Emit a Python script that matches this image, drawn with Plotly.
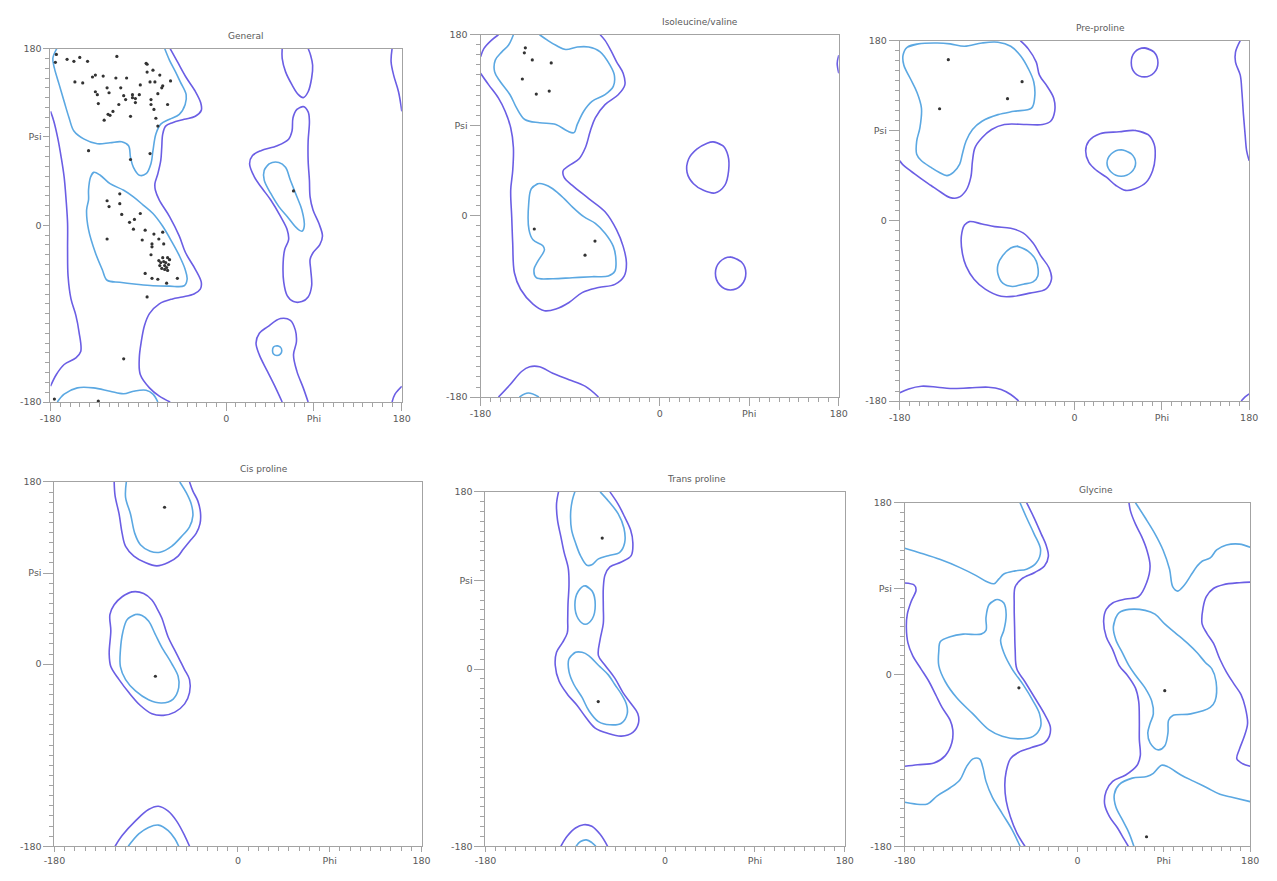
import plotly.graph_objects as go

# ---------------- data (phi, psi in degrees) ----------------
PANEL_TITLES = ["General", "Isoleucine/valine", "Pre-proline", "Cis proline", "Trans proline", "Glycine"]
TICK_VALUES = [-180, -90, 0, 90, 180]
X_TICK_TEXT = ["-180", "", "0", "Phi", "180"]
Y_TICK_TEXT = ["-180", "", "0", "Psi", "180"]

# --- General ---
GEN_PHI = [-174, -175, -163, -156, -150, -142, -112, -82, -81, -155, -147, -137, -134, -126, -113, -102, -81, -75, -68, -57,
           -122, -108, -88, -78, -73, -65, -66, -134, -132, -120, -105, -103, -96, -96, -93, -93, -89, -70, -77, -131,
           -110, -77, -74, -60, -116, -121, -119, -98, -125, -72, -70, -141, -78, -98,
           -109, -122, -109, -120, -107, -88, -94, -99, -122, -95, -83, -74, -65, -69, -86, -76, -64, -76, -77, -60,
           -58, -65, -69, -67, -64, -62, -59, -68, -63, -61, -66, -63, -60, -83, -76, -70, -61, -50, -81, -105, 69, -176, -131]
GEN_PSI = [174, 166, 169, 167, 171, 167, 172, 165, 164, 146, 145, 151, 153, 152, 150, 150, 156, 158, 153, 147,
           140, 140, 143, 146, 146, 142, 140, 136, 133, 135, 132, 128, 133, 130, 129, 125, 133, 134, 128, 124,
           123, 123, 118, 123, 116, 113, 112, 111, 107, 109, 101, 76, 73, 67,
           32, 25, 22, 19, 11, 12, 6, 3, -14, -4, -5, -9, -7, -14, -15, -19, -19, -22, -30, -33,
           -35, -33, -36, -38, -37, -38, -40, -41, -41, -43, -44, -45, -46, -49, -54, -55, -59, -54, -73, -136, 35, -177, -179]

GEN_IN_TOP = [(-173.6, 180), (-177.6, 170), (-176, 160), (-171, 143), (-166, 126), (-161, 109.5), (-156, 96), (-146, 88),
              (-132, 83), (-119, 84), (-107, 85), (-100, 81), (-98, 69), (-95, 59), (-89, 51), (-82, 52.5), (-77, 63),
              (-75, 76), (-72, 93), (-67, 103), (-58, 108), (-48, 113), (-42, 123), (-41, 133), (-47, 146), (-52, 156.5),
              (-58, 168), (-63, 180)]
GEN_IN_BOT = [(-173, -180), (-166, -172), (-152.5, -165.6), (-136, -165.6), (-119, -169), (-105, -171.6), (-95, -169),
              (-82, -168), (-75, -172), (-70, -180)]
GEN_IN_ALPHA = [(-135.7, 54), (-139, 49), (-141, 36), (-141, 26), (-143, 15.6), (-141, -4.5), (-134, -28), (-127, -45),
                (-122, -56), (-109, -58), (-92, -60), (-75, -61.6), (-58, -62), (-43, -61.6), (-40, -55), (-42, -45),
                (-48, -31), (-55, -18), (-65, -1), (-75, 12), (-85, 20.6), (-95, 29), (-105, 35.7), (-119, 42.4), (-129, 51)]
GEN_IN_LALPHA = [(44, 62.6), (39, 56), (39, 46), (45.7, 32.4), (54, 19), (62.5, 9), (72.5, -3), (77.6, -6), (80, -1),
                 (77.6, 15.6), (72.5, 29), (65.8, 45.8), (60.8, 59), (54, 64)]
GEN_IN_SMALL = [(52, -122.7), (55.5, -124), (57, -127.7), (55.5, -131.2), (52, -132.7), (48.5, -131.2), (47.5, -127.7), (48.5, -124)]
GEN_OUT_MAIN = [(-57.4, 180), (-50, 166.6), (-41.6, 151.5), (-31.6, 136.4), (-26, 124.6), (-25.5, 117), (-31.6, 111),
                (-43, 107.9), (-55, 104.5), (-62, 101), (-65, 92.8), (-66, 79.4), (-67, 66), (-70, 52.5), (-73, 42.5),
                (-72.5, 35.7), (-68.5, 25.7), (-58, 8.9), (-48, -11), (-41.6, -28), (-31.6, -44.8), (-25.5, -58),
                (-26.5, -65), (-33, -70), (-45, -73), (-55, -75), (-68.5, -80), (-78.6, -90), (-83.6, -101.8),
                (-87, -118.6), (-89, -135), (-88, -152), (-78.6, -165.6), (-68.5, -174), (-57.4, -180)]
GEN_OUT_LEFT = [(-180, 116), (-176.6, 106), (-172.6, 89), (-169, 69), (-166, 49), (-164, 25.7), (-162.5, 2),
                (-162.5, -24.7), (-162, -51.7), (-159, -75), (-154, -91.8), (-150.8, -108.5), (-149, -128.6),
                (-154, -135), (-166, -141.8), (-174, -152), (-180, -164)]
GEN_OUT_WRAP_TOP = [(170, 180), (169, 166.6), (171.6, 153), (176.6, 136), (180, 116)]
GEN_OUT_WRAP_BOT = [(170, -180), (173, -172), (180, -164)]
GEN_OUT_R_TOP = [(57.4, 180), (57.4, 170), (60.8, 156.5), (67.5, 143), (74, 133), (79, 130), (84, 136), (87.6, 150),
                 (88.6, 163), (86.6, 173), (84, 180)]
GEN_OUT_R_MID = [(79, 121), (72.5, 118), (68.5, 109.5), (67.5, 96), (64, 87.7), (52.4, 81), (35.6, 76), (27, 71),
                 (24, 62.6), (29, 49), (37, 37.4), (45.7, 25.7), (55.7, 9), (62.5, -4.5), (64, -14.6), (60, -24.6),
                 (58.4, -38), (59, -58), (62.5, -71.6), (69, -77.7), (77.6, -77.7), (84, -73), (87.6, -61.6),
                 (86.6, -44.8), (86, -34.7), (89, -28), (96, -19.6), (98.7, -11), (95, 2), (89, 15.6), (86, 29),
                 (85.3, 45.8), (84, 66), (84, 86), (85.3, 106), (84, 115.6)]
GEN_OUT_R_BOT = [(57.4, -180), (50.7, -165.6), (42.3, -148.8), (34, -132), (30.6, -120), (34, -110), (42.3, -103.5),
                 (55.7, -95), (65.8, -96.8), (70.9, -106.8), (72, -118.6), (69, -132), (72.5, -148.8), (79, -165.6), (84, -180)]

# --- Isoleucine/valine ---
ILE_PHI = [-135, -136, -128, -109, -138, -111, -124, -126, -65, -75]
ILE_PSI = [167, 162, 155, 152, 136, 124, 121, -13, -25, -39]
ILE_OUT_TOP_ARC = [(-162, 180), (-169.2, 174.4), (-176.7, 166.2), (-180, 158)]
ILE_OUT_MAIN = [(-180, 141.7), (-171.8, 130.2), (-162, 117), (-155.3, 104), (-149.7, 87.6), (-147, 68), (-147.7, 44.8),
                (-149.7, 25.4), (-148.7, -0.8), (-147.7, -27), (-146, -56.5), (-139.8, -72.9), (-127.3, -87.6),
                (-115.8, -94.2), (-104.3, -92.5), (-91.1, -86), (-77.9, -76.2), (-61.5, -71.2), (-45, -68),
                (-35.7, -59.8), (-33.4, -46.7), (-36.7, -30.3), (-43.3, -13.9), (-54.9, 4.1), (-71.3, 17.2),
                (-87.8, 30.3), (-96, 38.3), (-97, 44.8), (-91.1, 50), (-81.2, 56.5), (-74.6, 68), (-69.7, 84.3),
                (-64.7, 97.5), (-54.9, 110.6), (-41.7, 120.4), (-35, 130.2), (-36.7, 141.7), (-43.3, 153.1),
                (-48.3, 163), (-54.9, 174.4), (-59.8, 180)]
ILE_OUT_BOT = [(-162, -180), (-150.4, -167.8), (-138.8, -154.6), (-130.6, -149.9), (-120.7, -149.9), (-107.5, -156.3),
               (-91.1, -162.8), (-74.6, -169.4), (-61.5, -180)]
ILE_OUT_EDGE = [(180, 159.6), (178.4, 151.5), (180, 141.7)]
ILE_OUT_C1 = [(53.8, 73.5), (63.7, 69.6), (68.7, 59.8), (69.3, 45), (65.4, 30.3), (55.5, 22.8), (44, 25.4), (34, 31.9),
              (27.5, 43.4), (29.1, 56.5), (37.3, 66.3), (47.2, 71.9)]
ILE_OUT_C2 = [(71, -40.8), (82, -45.6), (86.6, -57), (82, -68.8), (71, -73.6), (60.5, -68.8), (56, -57), (60.5, -45.6)]
ILE_IN_TOP = [(-147, 180), (-152, 169.5), (-158.6, 163), (-165.2, 154.8), (-165.9, 143.3), (-160.3, 133.5),
              (-150.4, 120.4), (-143.8, 107.3), (-135.5, 95.8), (-120.7, 92.5), (-104.3, 90.9), (-92.7, 84.3),
              (-86.1, 82.7), (-82.8, 90.9), (-76.3, 104), (-68, 113.8), (-54.9, 120.4), (-46.6, 128.6), (-45.6, 140),
              (-49.9, 149.8), (-59.8, 163), (-71.3, 167.8), (-82.8, 167.8), (-94.4, 165.3), (-104.3, 169.5),
              (-112.5, 174.4), (-120.7, 180)]
ILE_IN_BOT = [(-141, -180), (-132, -176), (-121.4, -180)]
ILE_IN_MID = [(-122.4, 31.9), (-129, 27), (-131.6, 12.3), (-131.3, -13.9), (-127.3, -23.8), (-117.4, -29.6),
              (-115.8, -33.6), (-122.4, -45), (-126.3, -53.2), (-124, -61.4), (-107.5, -62.4), (-87.8, -61.4),
              (-68, -60.4), (-51.6, -59.8), (-45, -54.9), (-44, -43.4), (-46.6, -30.3), (-54.9, -17.2), (-64.7, -7.4),
              (-76.3, -0.8), (-87.8, 9), (-96, 17.2), (-107.5, 27), (-115.8, 31.3)]

# --- Pre-proline ---
PRE_PHI = [-130, -54, -69, -139]
PRE_PSI = [161, 139, 122, 112]
PRE_IN_TL = [(-172.5, 173.4), (-161, 176.8), (-141.3, 177.7), (-128.1, 176.8), (-113.3, 174.4), (-95.3, 177.7),
             (-78.8, 178.4), (-65.7, 174.4), (-55.8, 165.2), (-47.6, 152.1), (-42, 138.9), (-41.1, 122.5),
             (-44.3, 112.6), (-62.4, 109.4), (-78.8, 106.1), (-95.3, 99.5), (-105.1, 91.3), (-111.7, 79.7),
             (-115.6, 66.6), (-118.3, 56.7), (-124.8, 48.5), (-131.4, 45.2), (-139.6, 48.5), (-147.8, 53.4),
             (-157.7, 60), (-162.6, 66.6), (-162.6, 79.7), (-159.3, 92.9), (-157.7, 112.6), (-162.6, 129),
             (-169.2, 142.2), (-175.8, 155.4), (-176.7, 165.2)]
PRE_OUT_TL = [(-55.8, 180), (-47.6, 171.8), (-39.4, 158.6), (-36.1, 145.5), (-27.9, 134), (-21.4, 122.5),
              (-20.4, 109.4), (-24.6, 99.5), (-32.9, 96.2), (-49.3, 96.2), (-72.3, 96.2), (-85.4, 91.3), (-95.3, 83),
              (-102.5, 73.2), (-105.1, 60), (-106.8, 43.6), (-111.7, 30.4), (-119.9, 23.2), (-128.1, 23.2),
              (-138, 28.8), (-147.8, 35.3), (-157.7, 41.9), (-169.2, 50.1), (-177.4, 56.7), (-180, 60)]
PRE_OUT_RIGHT = [(170.8, 180), (165.9, 168.5), (165.9, 158.6), (170.8, 145.5), (172.5, 129), (174.1, 106.1),
                 (175.8, 86.3), (177.4, 69.9), (180, 60)]
PRE_OUT_BOT = [(-180, -171.8), (-170.8, -167.9), (-157.7, -165.2), (-141.3, -166.2), (-128.1, -167.5),
               (-108.4, -166.9), (-88.7, -166.2), (-75.6, -168.5), (-65.7, -173.5), (-57.5, -180)]
PRE_OUT_BR = [(171.8, -180), (175.8, -175.8), (180, -172.8)]
PRE_OUT_CIRC = [(72, 172.8), (82, 168.5), (86, 158), (82, 148), (72, 143.8), (62, 148), (58.5, 158), (62, 168.5)]
PRE_OUT_MID = [(62.4, 90.3), (75.6, 86.3), (82.1, 76.5), (83.1, 63.3), (80.5, 50.1), (73.9, 38.6), (62.4, 32.1),
               (52.6, 30.4), (42.7, 35.3), (32.9, 43.6), (23, 50.1), (14.8, 58.4), (11.5, 69.9), (14.8, 79.7),
               (26.3, 87), (46, 89)]
PRE_IN_MID = [(48, 71), (58.5, 67), (63, 57.7), (58.5, 48.5), (48, 44.5), (38, 48.5), (33.5, 57.7), (38, 67)]
PRE_OUT_LOW = [(-108.4, -0.8), (-113.3, -4.1), (-116.6, -15.6), (-115.6, -32.1), (-111.7, -45.2), (-103.5, -58.3),
               (-92, -68.2), (-75.6, -75.4), (-62.4, -75.4), (-46, -72.2), (-29.6, -68.2), (-23.7, -58.3),
               (-26.3, -46.9), (-34.5, -35.3), (-42.7, -22.2), (-52.6, -12.3), (-65.7, -7.4), (-82.1, -5.8), (-95.3, -3.1)]
PRE_IN_LOW = [(-59.1, -25.5), (-47.6, -30.4), (-39.4, -40.3), (-37.8, -55.1), (-42.7, -61), (-52.6, -63.3),
              (-64.1, -65.6), (-73.9, -62.3), (-78.8, -53.4), (-78.8, -43.6), (-73.9, -34.7), (-65.7, -27.1)]

# --- Cis proline ---
CIS_PHI = [-72, -81]
CIS_PSI = [155, -12]
CIS_OUT_TOP = [(-121.4, 180), (-120.5, 166.2), (-116.6, 148.4), (-113.6, 129.2), (-110.2, 116.4), (-102.1, 106.8),
               (-90.9, 100.4), (-79.6, 97.1), (-68.4, 100.4), (-58.7, 106.8), (-53.9, 113.2), (-47.5, 121.2),
               (-41, 129.2), (-37.2, 138.8), (-36.8, 150), (-39.4, 161.3), (-44.2, 171), (-47.5, 180)]
CIS_IN_TOP = [(-109.5, 180), (-110.2, 164.5), (-105.4, 148.4), (-101.2, 129.2), (-95.7, 118), (-86.1, 111.6),
              (-76.4, 110.6), (-65.1, 116.4), (-55.5, 126), (-47.5, 135.7), (-44.2, 146.8), (-45.8, 158.1),
              (-50.7, 169.4), (-57.1, 180)]
CIS_OUT_MID = [(-103.7, 71.4), (-113.6, 66.6), (-121.4, 58.6), (-125.6, 49), (-124.7, 32.9), (-126.3, 10.4),
               (-124.7, -2.4), (-116.6, -15.3), (-107, -28.1), (-95.7, -40.9), (-84.4, -49), (-73.2, -50.6),
               (-61.9, -47.4), (-52.3, -39.3), (-47.5, -28.1), (-47.5, -15.3), (-52.3, -5.6), (-57.1, 4),
               (-61.9, 13.6), (-68.4, 26.5), (-74.8, 45.8), (-79.6, 55.4), (-84.4, 63.4), (-92.5, 69.9)]
CIS_IN_MID = [(-100.5, 49), (-108.6, 44.2), (-113, 31.3), (-115.3, 13.6), (-115.3, -2.4), (-110.2, -15.3),
              (-100.5, -26.5), (-87.7, -35.2), (-74.8, -38.4), (-63.5, -34.5), (-58.1, -23.3), (-58.7, -12),
              (-65.1, 0.8), (-74.8, 16.9), (-81.2, 29.7), (-87.7, 42.6), (-94.1, 48)]
CIS_OUT_BOT = [(-120.5, -180), (-113.6, -169.4), (-100.5, -154.9), (-87.7, -143.7), (-78, -140.5), (-68.4, -145.3),
               (-60.3, -154.9), (-52.3, -169.4), (-47.5, -180)]
CIS_IN_BOT = [(-107.6, -180), (-97.3, -167.8), (-87.7, -161.4), (-78, -159.1), (-68.4, -164.6), (-61.9, -172.6), (-58.1, -180)]

# --- Trans proline ---
TRANS_PHI = [-63, -67]
TRANS_PSI = [133, -33]
TRANS_OUT_MAIN = [(-106.8, 180), (-108.8, 167.6), (-107.8, 151.2), (-104.5, 134.8), (-101.2, 118.5), (-97, 102.1),
                  (-96.3, 85.8), (-97.3, 66.1), (-97.6, 49.7), (-98, 36.7), (-102.9, 26.8), (-108.8, 17),
                  (-110.1, 3.9), (-106.2, -12.4), (-98, -25.5), (-88.1, -37), (-79.9, -48.4), (-70.1, -59.9),
                  (-56.9, -65.5), (-43.8, -68.1), (-32.3, -64.2), (-26.7, -55), (-27.4, -45.2), (-34, -35.3),
                  (-42.2, -23.9), (-50.4, -9.2), (-60.2, 3.9), (-66.8, 13.7), (-65.1, 30.1), (-61.9, 46.5),
                  (-61.9, 62.8), (-61.9, 82.5), (-60.2, 95.6), (-55.3, 103.8), (-43.8, 108.7), (-34, 115.2),
                  (-32.3, 128.3), (-34.6, 141.4), (-40.5, 154.5), (-47.1, 167.6), (-55.3, 180)]
TRANS_IN_TOP = [(-90.4, 180), (-93.1, 170.8), (-94.7, 157.8), (-93.7, 141.4), (-89.8, 128.3), (-84.8, 115.2),
                (-78.3, 105.4), (-73.4, 106), (-66.8, 111.9), (-56.9, 115.2), (-45.5, 118.5), (-40.5, 128.3),
                (-41.2, 143), (-47.1, 157.8), (-56.9, 170.8), (-65.1, 180)]
TRANS_IN_ELL = [(-80, 84.7), (-73, 79), (-70, 65), (-73, 51), (-80, 45.5), (-87, 51), (-90.4, 65), (-87, 79)]
TRANS_IN_LOW = [(-89.8, 17), (-96.3, 10.5), (-96.3, -2.6), (-91.4, -15.7), (-83.2, -28.8), (-76.6, -41.9),
                (-66.8, -53.4), (-55.3, -56.6), (-43.8, -55), (-37.9, -45.2), (-38.9, -35.3), (-43.8, -25.5),
                (-50.4, -15.7), (-56.9, -5.9), (-66.8, 3.9), (-76.6, 13.7), (-83.2, 17)]
TRANS_OUT_BOT = [(-104.5, -180), (-98, -169.6), (-89.8, -161.4), (-81.6, -158.1), (-73.4, -159.7), (-65.1, -167.9), (-57.6, -180)]
TRANS_IN_BOT = [(-89.2, -180), (-84.8, -175.2), (-78.9, -173.5), (-73.4, -176.2), (-69.4, -180)]

# --- Glycine ---
GLY_PHI = [-61, 91, 72]
GLY_PSI = [-14, -17, -170]
GLY_OUT_L = [(-53, 180), (-45.2, 164.2), (-37.8, 147.4), (-32.7, 135.6), (-30.3, 123.8), (-34.4, 113.7),
             (-44.5, 106.9), (-58.1, 100.2), (-64.9, 91.8), (-65.9, 73.3), (-65.5, 49.7), (-64.9, 26.1), (-63.2, 5.9),
             (-54.7, -7.6), (-44.5, -24.4), (-34.4, -41.3), (-28.3, -54.7), (-29.3, -64.8), (-34.4, -71.6),
             (-47.9, -76.6), (-61.5, -81.7), (-69.9, -88.4), (-74.3, -101.9), (-75.7, -115.4), (-74.3, -132.2),
             (-69.9, -149), (-63.2, -165.9), (-54.7, -180)]
GLY_IN_TL = [(-59.8, 180), (-53, 164.2), (-45.2, 147.4), (-38.4, 130.5), (-42.8, 117), (-53, 110.3), (-64.9, 108.6),
             (-76.7, 105.3), (-81.8, 100.2), (-86.9, 95.1), (-93.6, 96.8), (-105.5, 103.6), (-122.4, 112),
             (-142.8, 120.4), (-163.1, 127.1), (-180, 132.2)]
GLY_IN_BL = [(-180, -133.9), (-169.9, -135.6), (-156.3, -135.6), (-146.1, -127.1), (-132.6, -118.7), (-122.4, -110.3),
             (-115.7, -96.8), (-108.9, -88.4), (-102.1, -88.4), (-98.7, -96.8), (-95.3, -112), (-88.6, -128.8),
             (-78.4, -145.7), (-68.2, -162.5), (-59.8, -180)]
GLY_IN_LMID = [(-85.2, 78.3), (-92, 73.3), (-95.3, 59.8), (-95.3, 46.3), (-100.4, 42.3), (-119.1, 42.3),
               (-132.6, 39.6), (-142.8, 34.5), (-144.5, 24.4), (-144.5, 9.3), (-137.7, -7.6), (-125.8, -24.4),
               (-108.9, -41.3), (-92, -58.1), (-78.4, -64.8), (-61.5, -67.5), (-46.2, -64.8), (-38.4, -54.7),
               (-39.5, -41.3), (-46.2, -27.8), (-56.4, -10.9), (-68.2, 5.9), (-76.7, 22.7), (-80.1, 36.2),
               (-76.7, 46.3), (-74.3, 63.2), (-76.7, 74.9), (-81.8, 78.3)]
GLY_OUT_LEDGE = [(-180, 95.8), (-169.9, 93.5), (-168.2, 88.4), (-173.2, 76.6), (-177.3, 63.2), (-178.3, 49.7),
                 (-176.6, 32.8), (-171.6, 19.4), (-163.1, 5.9), (-154.6, -7.6), (-147.8, -21.1), (-141.1, -34.5),
                 (-132.6, -48), (-129.9, -58.1), (-130.9, -71.6), (-137.7, -85), (-149.5, -92.8), (-166.5, -94.5), (-180, -96.2)]
GLY_OUT_R = [(53.7, 180), (55.4, 170.9), (60.5, 157.5), (67.2, 144), (72.3, 130.5), (75.7, 113.7), (72.3, 96.8),
             (63.8, 81.7), (50.3, 79), (36.7, 74.9), (30, 68.2), (27.3, 56.4), (30, 39.6), (36.7, 26.1), (43.5, 9.3),
             (52, -0.8), (60.5, -14.3), (63.8, -27.8), (64.5, -48), (64.5, -68.2), (65.5, -85), (62.2, -95.1),
             (50.3, -105.3), (36.7, -112), (30, -122.1), (28.3, -135.6), (33.4, -149), (41.8, -160.8),
             (48.6, -172.6), (53, -180)]
GLY_IN_TR = [(60.5, 180), (70.6, 164.2), (80.8, 147.4), (89.2, 130.5), (96, 110.3), (99.4, 91.8), (104.5, 87.4),
             (111.3, 93.5), (118, 103.6), (124.8, 113.7), (129.9, 118.7), (138.4, 122.1), (145.1, 130.5),
             (155.3, 135.6), (168.8, 136.6), (180, 133.2)]
GLY_IN_BR = [(58.8, -180), (53.7, -165.9), (46.9, -152.4), (40.1, -138.9), (38.4, -125.5), (43.5, -115.4),
             (57.1, -108.6), (72.3, -106.9), (79.1, -103.6), (87.6, -95.1), (94.3, -96.8), (107.9, -105.3),
             (121.4, -112), (135, -118.7), (148.5, -125.5), (162.1, -128.8), (180, -133.2)]
GLY_IN_RMID = [(40.1, 59.8), (37.4, 49.7), (40.1, 36.2), (46.9, 22.7), (53.7, 9.3), (60.5, -0.8), (70.6, -14.3),
               (77.4, -27.8), (79.1, -41.3), (75.7, -51.4), (73.3, -61.4), (75.7, -71.6), (84.2, -79), (90.9, -74.9),
               (94.3, -61.4), (95, -48), (99.4, -42.9), (118, -41.3), (138.4, -34.5), (143.4, -27.8), (144.5, -7.6),
               (140.1, 5.9), (133.3, 12.6), (124.8, 22.7), (114.6, 32.8), (102.8, 42.9), (90.9, 53), (80.8, 63.2),
               (70.6, 67.2), (53.7, 68.2), (43.5, 64.8)]
GLY_OUT_REDGE = [(180, 96.8), (168.8, 96.2), (151.9, 94.1), (141.7, 90.1), (134.3, 81.7), (130.9, 69.9), (129.9, 53),
                 (135, 42.9), (141.7, 32.8), (148.5, 16), (155.3, 2.5), (163.8, -10.9), (170.5, -21.1),
                 (174.9, -34.5), (177.3, -51.4), (173.9, -64.8), (168.8, -78.3), (166.1, -88.4), (172.2, -93.5), (180, -96.2)]

# ---------------- structure ----------------
PANELS = [
    dict(phi=GEN_PHI, psi=GEN_PSI,
         outer=[(GEN_OUT_MAIN, False), (GEN_OUT_LEFT, False), (GEN_OUT_WRAP_TOP, False), (GEN_OUT_WRAP_BOT, False),
                (GEN_OUT_R_TOP, False), (GEN_OUT_R_MID, True), (GEN_OUT_R_BOT, False)],
         inner=[(GEN_IN_TOP, False), (GEN_IN_BOT, False), (GEN_IN_ALPHA, True), (GEN_IN_LALPHA, True), (GEN_IN_SMALL, True)]),
    dict(phi=ILE_PHI, psi=ILE_PSI,
         outer=[(ILE_OUT_TOP_ARC, False), (ILE_OUT_MAIN, False), (ILE_OUT_BOT, False), (ILE_OUT_EDGE, False),
                (ILE_OUT_C1, True), (ILE_OUT_C2, True)],
         inner=[(ILE_IN_TOP, False), (ILE_IN_BOT, False), (ILE_IN_MID, True)]),
    dict(phi=PRE_PHI, psi=PRE_PSI,
         outer=[(PRE_OUT_TL, False), (PRE_OUT_RIGHT, False), (PRE_OUT_BOT, False), (PRE_OUT_BR, False),
                (PRE_OUT_CIRC, True), (PRE_OUT_MID, True), (PRE_OUT_LOW, True)],
         inner=[(PRE_IN_TL, True), (PRE_IN_MID, True), (PRE_IN_LOW, True)]),
    dict(phi=CIS_PHI, psi=CIS_PSI,
         outer=[(CIS_OUT_TOP, False), (CIS_OUT_MID, True), (CIS_OUT_BOT, False)],
         inner=[(CIS_IN_TOP, False), (CIS_IN_MID, True), (CIS_IN_BOT, False)]),
    dict(phi=TRANS_PHI, psi=TRANS_PSI,
         outer=[(TRANS_OUT_MAIN, False), (TRANS_OUT_BOT, False)],
         inner=[(TRANS_IN_TOP, False), (TRANS_IN_ELL, True), (TRANS_IN_LOW, True), (TRANS_IN_BOT, False)]),
    dict(phi=GLY_PHI, psi=GLY_PSI,
         outer=[(GLY_OUT_L, False), (GLY_OUT_LEDGE, False), (GLY_OUT_R, False), (GLY_OUT_REDGE, False)],
         inner=[(GLY_IN_TL, False), (GLY_IN_BL, False), (GLY_IN_LMID, True), (GLY_IN_TR, False), (GLY_IN_BR, False),
                (GLY_IN_RMID, True)]),
]

# ---------------- layout / style ----------------
PAGE_W, PAGE_H = 1277, 881
BODY_MARGIN = 8                       # default page margin around the figure
W, H = PAGE_W - 2 * BODY_MARGIN, PAGE_H - 2 * BODY_MARGIN
# plot boxes in page pixels: left, right, top, bottom (kept so that no text spills past the figure)
BOXES = [(40, 397, 43, 401), (477, 841, 29, 396), (903, 1258, 35, 400),
         (44, 417, 482, 851), (482, 847, 492, 851), (908, 1259, 503, 851)]
X_TICKLEN = [8, 8, 8, 5, 5, 5]
Y_TICKLEN = [6, 10, 10, 10, 10, 10]
OUTER_COLOR = "#6b5ee4"
INNER_COLOR = "#5ba8e2"
AXIS_COLOR = "#a3a3a3"
TEXT_COLOR = "#5a5a5a"
FONT = "DejaVu Sans"

fig = go.Figure()
layout = dict(width=W, height=H, autosize=False, margin=dict(l=0, r=0, t=0, b=0),
              paper_bgcolor="white", plot_bgcolor="white", showlegend=False, hovermode=False,
              annotations=[])


def add_line(pts, closed, color, xa, ya):
    xs = [p[0] for p in pts]
    ys = [p[1] for p in pts]
    if closed:
        xs = xs + xs[:2]
        ys = ys + ys[:2]
    fig.add_trace(go.Scatter(x=xs, y=ys, mode="lines", xaxis=xa, yaxis=ya,
                             line=dict(color=color, width=1.6, shape="spline", smoothing=1.0),
                             hoverinfo="skip"))


minor_vals = list(range(-170, 180, 10))
for i, (panel, box, title) in enumerate(zip(PANELS, BOXES, PANEL_TITLES)):
    n = "" if i == 0 else str(i + 1)
    xa, ya = "x" + n, "y" + n
    l, r, t, b = box
    xdom = [(l - BODY_MARGIN) / W, (r - BODY_MARGIN) / W]
    ydom = [1 - (b - BODY_MARGIN) / H, 1 - (t - BODY_MARGIN) / H]
    for pts, closed in panel["outer"]:
        add_line(pts, closed, OUTER_COLOR, xa, ya)
    for pts, closed in panel["inner"]:
        add_line(pts, closed, INNER_COLOR, xa, ya)
    fig.add_trace(go.Scatter(x=panel["phi"], y=panel["psi"], mode="markers", xaxis=xa, yaxis=ya,
                             marker=dict(symbol="circle", size=3.2, color="#333333"), hoverinfo="skip"))
    common = dict(range=[-180, 180], autorange=False, fixedrange=True, showgrid=False, zeroline=False,
                  showline=True, linecolor=AXIS_COLOR, linewidth=1, mirror=True,
                  ticks="outside", tickcolor=AXIS_COLOR, tickwidth=1, tickmode="array", tickvals=TICK_VALUES,
                  tickfont=dict(family=FONT, size=9.5, color=TEXT_COLOR),
                  minor=dict(tickmode="array", tickvals=minor_vals, ticks="outside", ticklen=4,
                             tickcolor=AXIS_COLOR, tickwidth=1, showgrid=False))
    layout["xaxis" + n] = dict(common, domain=xdom, anchor=ya, ticktext=X_TICK_TEXT, ticklen=X_TICKLEN[i])
    layout["yaxis" + n] = dict(common, domain=ydom, anchor=xa, ticktext=Y_TICK_TEXT, ticklen=Y_TICKLEN[i])
    layout["annotations"].append(dict(text=title, xref="paper", yref="paper", x=(xdom[0] + xdom[1]) / 2,
                                      y=ydom[1], xanchor="left", yanchor="middle", yshift=13, showarrow=False,
                                      font=dict(family=FONT, size=9, color=TEXT_COLOR)))

fig.update_layout(**layout)
fig.write_html("out.html", config={"displayModeBar": False})
